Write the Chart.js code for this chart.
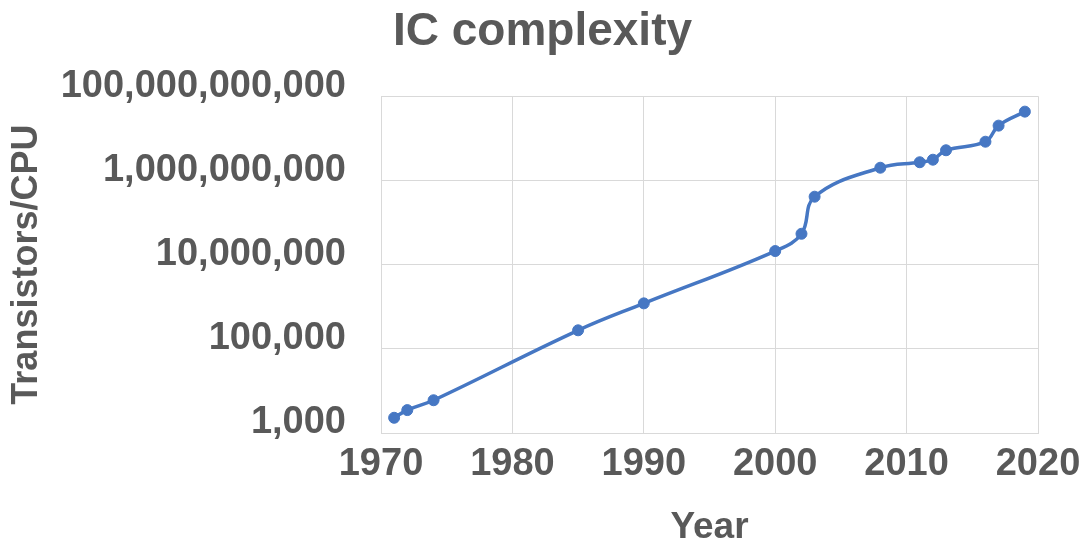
<!DOCTYPE html>
<html>
<head>
<meta charset="utf-8">
<title>IC complexity</title>
<script src="https://cdn.jsdelivr.net/npm/chart.js@4/dist/chart.umd.min.js"></script>
<style>
  html, body { margin: 0; padding: 0; background: #fff; }
  #wrap { width: 1085px; height: 544px; }
</style>
</head>
<body>
<div id="wrap"><canvas id="chip"></canvas></div>
<script>
// values (year, transistors per CPU)
var years = [1971, 1972, 1974, 1985, 1990, 2000, 2002, 2003, 2008, 2011, 2012, 2013, 2016, 2017, 2019];
var transistors = [2300, 3500, 6000, 275000, 1200000, 21000000, 54000000, 410000000,
                   2000000000, 2700000000, 3100000000, 5200000000, 8300000000, 20000000000, 43000000000];
var xTicks = [1970, 1980, 1990, 2000, 2010, 2020];
var yTicks = [1000, 100000, 10000000, 1000000000, 100000000000];

var grey = '#595959';
var fam = '"Liberation Sans", Arial, sans-serif';

var points = [];
for (var i in years) {
    points.push({x: years[i], y: transistors[i]});
}

var ctx = document.getElementById('chip');
var icChart = new Chart(ctx, {
    type: 'line',
    data: {
        datasets: [{
            label: 'Transistors/CPU',
            data: points,
            borderColor: '#4677c3',
            backgroundColor: '#4677c3',
            borderWidth: 3.5,
            pointRadius: 5.5,
            pointBorderWidth: 1,
            tension: 0.4,
            fill: false
        }]
    },
    options: {
        responsive: true,
        maintainAspectRatio: false,
        animation: false,
        layout: { padding: 0 },
        plugins: {
            legend: { display: false },
            tooltip: { enabled: false },
            title: {
                display: true,
                text: 'IC complexity',
                color: grey,
                font: { family: fam, size: 46, weight: 'bold', lineHeight: 1.2 },
                padding: { top: 5, bottom: 36 }
            }
        },
        scales: {
            x: {
                type: 'linear',
                min: 1970,
                max: 2020,
                afterBuildTicks: function(scale) {
                    scale.ticks = xTicks.map(function(v) { return {value: v}; });
                },
                afterFit: function(scale) {
                    scale.height = 111;
                    scale.paddingLeft = 0;
                    scale.paddingRight = 47;
                },
                ticks: {
                    color: grey,
                    padding: 9,
                    maxRotation: 0,
                    font: { family: fam, size: 38, weight: 'bold' },
                    callback: function(v) { return String(v); }
                },
                grid: { color: '#d9d9d9', lineWidth: 1, drawTicks: false },
                border: { color: '#d9d9d9' },
                title: {
                    display: true,
                    text: 'Year',
                    color: grey,
                    padding: 0,
                    font: { family: fam, size: 37, weight: 'bold', lineHeight: 0.9 }
                }
            },
            y: {
                type: 'logarithmic',
                min: 1000,
                max: 100000000000,
                afterBuildTicks: function(scale) {
                    scale.ticks = yTicks.map(function(v) { return {value: v}; });
                },
                afterFit: function(scale) { scale.width = 381; },
                ticks: {
                    color: grey,
                    padding: 35,
                    labelOffset: -10,
                    font: { family: fam, size: 38, weight: 'bold' },
                    callback: function(v) { return Number(v).toLocaleString('en-US'); }
                },
                grid: { color: '#d9d9d9', lineWidth: 1, drawTicks: false },
                border: { color: '#d9d9d9' },
                title: {
                    display: true,
                    text: 'Transistors/CPU',
                    color: grey,
                    padding: { top: 5, bottom: 0 },
                    font: { family: fam, size: 36, weight: 'bold', lineHeight: 1.2 }
                }
            }
        }
    }
});
</script>
</body>
</html>
